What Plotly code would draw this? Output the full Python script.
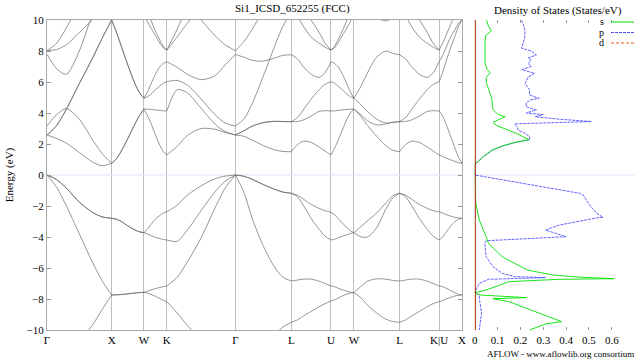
import plotly.graph_objects as go
import numpy as np

# ---------------- k-path ----------------
kpath_labels = ["Γ", "X", "W", "K", "Γ", "L", "U", "W", "L", "K|U", "X"]
segment_lengths = [1.0, 0.5, 0.3536, 1.0607, 0.8660, 0.6124, 0.3536, 0.7071, 0.6124, 0.3536]
kfrac = [0, 0.15, 0.3, 0.5, 0.7, 0.85, 1.0]

# band energies (eV) per segment, sampled at kfrac
bands_GX = [
    [-11.96, -11.8, -11.3, -10.7, -9.7, -8.7, -7.74],
    [0, -0.8, -2.0, -3.8, -5.6, -6.8, -7.74],
    [0, -0.3, -0.85, -1.75, -2.4, -2.7, -2.79],
    [0, -0.3, -0.85, -1.75, -2.4, -2.7, -2.79],
    [2.58, 2.35, 2.05, 1.45, 0.85, 0.6, 0.75],
    [3.16, 3.9, 4.28, 3.6, 2.3, 1.4, 0.75],
    [2.58, 3.2, 4.25, 5.9, 7.5, 8.8, 10.0],
    [2.58, 3.2, 4.25, 5.9, 7.5, 8.8, 10.0],
    [7.78, 6.85, 6.5, 8.0, 10.3, 11.5, 12.5],
    [8.02, 8.1, 8.4, 9.2, 10.0, 10.8, 11.5],
    [8.02, 8.5, 9.5, 11.0, 12.5, 13.5, 14.0],
]
bands_XW = [
    [-7.74, -7.73, -7.71, -7.67, -7.62, -7.59, -7.57],
    [-7.74, -7.73, -7.71, -7.67, -7.62, -7.59, -7.57],
    [-2.79, -2.85, -3.0, -3.28, -3.52, -3.66, -3.72],
    [-2.79, -2.85, -3.0, -3.28, -3.52, -3.66, -3.72],
    [0.75, 1.05, 1.55, 2.35, 3.2, 3.8, 4.26],
    [0.75, 1.05, 1.55, 2.35, 3.2, 3.8, 4.26],
    [10.0, 9.2, 8.3, 7.1, 6.0, 5.35, 4.95],
    [10.0, 9.2, 8.3, 7.1, 6.0, 5.35, 4.95],
    [11.5, 11.2, 10.9, 10.6, 10.4, 10.3, 10.3],
]
bands_WK = [
    [-7.57, -7.62, -7.7, -7.82, -7.97, -8.08, -8.17],
    [-7.57, -7.5, -7.42, -7.33, -7.25, -7.2, -7.16],
    [-3.72, -3.8, -3.9, -4.02, -4.1, -4.16, -4.19],
    [-3.72, -3.5, -3.2, -2.85, -2.6, -2.45, -2.37],
    [4.26, 3.85, 3.35, 2.6, 1.9, 1.5, 1.29],
    [4.26, 4.25, 4.23, 4.2, 4.17, 4.14, 4.13],
    [4.95, 5.05, 5.2, 5.5, 5.75, 5.93, 6.02],
    [4.95, 5.35, 5.85, 6.5, 7.0, 7.2, 7.31],
    [10.3, 9.9, 9.5, 9.0, 8.5, 8.2, 8.06],
    [11.0, 10.5, 10.0, 9.3, 8.7, 8.3, 8.06],
]
bands_KG = [
    [-8.17, -8.9, -9.7, -10.7, -11.4, -11.8, -11.96],
    [-7.16, -6.6, -5.6, -4.05, -2.15, -0.85, 0],
    [-4.19, -4.28, -3.55, -2.3, -1.1, -0.4, 0],
    [-2.37, -1.95, -1.3, -0.7, -0.25, -0.07, 0],
    [1.29, 1.85, 2.55, 3.0, 2.95, 2.75, 2.58],
    [4.13, 5.5, 5.3, 4.3, 3.3, 2.8, 2.58],
    [6.02, 6.1, 5.8, 4.9, 3.9, 3.35, 3.16],
    [7.31, 6.95, 6.5, 6.15, 6.4, 7.1, 7.78],
    [8.06, 8.9, 9.8, 10.8, 11.5, 12.0, 12.5],
    [8.06, 9.4, 10.8, 12.0, 12.8, 13.2, 13.5],
    [13.0, 12.0, 11.0, 10.0, 9.0, 8.4, 8.02],
]
bands_GL = [
    [-11.96, -11.8, -11.5, -10.9, -10.3, -9.8, -9.5],
    [0, -1.1, -2.8, -4.6, -5.95, -6.6, -6.84],
    [0, -0.08, -0.28, -0.62, -0.92, -1.1, -1.18],
    [0, -0.08, -0.28, -0.62, -0.92, -1.1, -1.18],
    [2.58, 2.5, 2.25, 1.9, 1.62, 1.52, 1.5],
    [2.58, 2.85, 3.15, 3.38, 3.46, 3.45, 3.44],
    [2.58, 2.85, 3.15, 3.38, 3.46, 3.45, 3.44],
    [3.16, 3.6, 4.6, 6.4, 8.3, 9.6, 10.5],
    [7.78, 7.6, 7.4, 7.35, 7.55, 7.72, 7.76],
    [8.02, 8.6, 9.4, 10.6, 11.5, 12.0, 12.2],
]
bands_LU = [
    [-9.5, -9.35, -9.1, -8.8, -8.5, -8.3, -8.13],
    [-6.84, -6.78, -6.72, -6.72, -6.85, -7.0, -7.16],
    [-1.18, -1.4, -1.95, -2.8, -3.5, -3.95, -4.19],
    [-1.18, -1.3, -1.55, -1.9, -2.15, -2.3, -2.41],
    [1.5, 1.95, 2.18, 2.1, 1.8, 1.55, 1.29],
    [3.44, 3.45, 3.55, 3.8, 4.1, 4.15, 4.13],
    [3.44, 3.7, 4.2, 4.9, 5.5, 5.85, 6.02],
    [7.76, 7.5, 7.0, 6.5, 6.3, 6.6, 7.31],
    [11.0, 10.3, 9.6, 8.9, 8.5, 8.25, 8.06],
    [12.0, 11.5, 10.8, 10.0, 9.2, 8.5, 8.06],
]
bands_UW = [
    [-8.13, -8.05, -7.95, -7.8, -7.68, -7.62, -7.59],
    [-7.16, -7.2, -7.3, -7.4, -7.5, -7.56, -7.59],
    [-4.19, -4.15, -4.05, -3.95, -3.85, -3.77, -3.72],
    [-2.41, -2.55, -2.8, -3.1, -3.4, -3.6, -3.72],
    [1.29, 1.7, 2.2, 2.9, 3.6, 4.0, 4.26],
    [4.13, 4.14, 4.16, 4.2, 4.23, 4.25, 4.26],
    [6.02, 5.93, 5.75, 5.5, 5.2, 5.05, 4.95],
    [7.31, 7.2, 7.0, 6.5, 5.85, 5.35, 4.95],
    [8.06, 8.2, 8.5, 9.0, 9.5, 9.9, 10.3],
    [8.06, 8.3, 8.7, 9.3, 10.0, 10.5, 11.0],
]
bands_WL = [
    [-7.59, -7.9, -8.4, -8.9, -9.3, -9.45, -9.5],
    [-7.59, -7.2, -6.85, -6.7, -6.72, -6.8, -6.84],
    [-3.72, -3.98, -4.0, -3.4, -2.2, -1.5, -1.18],
    [-3.72, -3.35, -2.95, -2.45, -1.8, -1.35, -1.18],
    [4.26, 3.8, 3.2, 2.5, 1.9, 1.6, 1.5],
    [4.26, 3.9, 3.5, 3.23, 3.3, 3.4, 3.44],
    [4.95, 4.55, 4.1, 3.6, 3.35, 3.4, 3.44],
    [4.95, 5.7, 6.6, 7.6, 8.0, 7.85, 7.76],
    [10.3, 10.4, 10.3, 10.1, 9.95, 10.1, 10.5],
]
bands_LK = [
    [-9.5, -9.35, -9.1, -8.8, -8.5, -8.3, -8.17],
    [-6.84, -6.78, -6.72, -6.72, -6.85, -7.0, -7.16],
    [-1.18, -1.4, -1.95, -2.8, -3.5, -3.95, -4.19],
    [-1.18, -1.3, -1.55, -1.9, -2.15, -2.3, -2.37],
    [1.5, 1.95, 2.18, 2.1, 1.8, 1.55, 1.29],
    [3.44, 3.45, 3.55, 3.8, 4.1, 4.15, 4.13],
    [3.44, 3.7, 4.2, 4.9, 5.5, 5.85, 6.02],
    [7.76, 7.5, 7.0, 6.5, 6.3, 6.6, 7.31],
    [11.0, 10.3, 9.6, 8.9, 8.5, 8.25, 8.06],
    [12.0, 11.5, 10.8, 10.0, 9.2, 8.5, 8.06],
]
bands_UX = [
    [-8.17, -8.1, -8.0, -7.9, -7.8, -7.76, -7.74],
    [-7.16, -7.2, -7.3, -7.45, -7.6, -7.7, -7.74],
    [-4.19, -4.0, -3.7, -3.3, -3.0, -2.85, -2.79],
    [-2.37, -2.45, -2.55, -2.65, -2.73, -2.77, -2.79],
    [1.29, 1.2, 1.1, 0.98, 0.87, 0.79, 0.75],
    [4.13, 3.8, 3.3, 2.5, 1.7, 1.15, 0.75],
    [6.02, 6.6, 7.3, 8.2, 9.0, 9.6, 10.0],
    [7.31, 7.7, 8.2, 8.9, 9.4, 9.8, 10.0],
    [8.06, 8.5, 9.0, 9.7, 10.4, 11.0, 11.5],
]
segment_bands = [bands_GX, bands_XW, bands_WK, bands_KG, bands_GL,
                 bands_LU, bands_UW, bands_WL, bands_LK, bands_UX]

# ---------------- DOS (States/eV) ----------------
dos_s_energy = [10.0, 9.6, 9.3, 9.0, 8.6, 8.2, 7.74, 7.2, 6.8, 6.6, 6.3, 5.9, 5.5, 5.16, 4.9,
                4.4, 4.2, 4.0, 3.9, 3.76, 3.6, 3.4, 3.2, 3.05, 2.9, 2.7, 2.45, 2.28, 2.1, 1.9,
                1.6, 1.2, 0.75, 0.6, 0.0, -0.5, -1.83, -2.9, -3.55, -3.98, -4.41, -5.27, -6.13,
                -6.45, -6.6, -6.69, -6.73, -6.88, -7.1, -7.42, -7.59, -7.74, -7.91, -7.98,
                -8.17, -8.71, -9.46, -9.61, -10.0]
dos_s = [0.052, 0.060, 0.073, 0.048, 0.045, 0.045, 0.047, 0.045, 0.055, 0.068, 0.050, 0.052,
         0.062, 0.070, 0.075, 0.078, 0.081, 0.095, 0.105, 0.133, 0.110, 0.080, 0.095, 0.120,
         0.150, 0.179, 0.215, 0.237, 0.175, 0.125, 0.075, 0.038, 0.005, 0.0, 0.0, 0.002,
         0.005, 0.02, 0.04, 0.05, 0.06, 0.12, 0.23, 0.34, 0.47, 0.61, 0.37, 0.15, 0.11,
         0.05, 0.0, 0.02, 0.227, 0.08, 0.15, 0.25, 0.38, 0.31, 0.24]
dos_p_energy = [10.0, 9.7, 9.3, 8.8, 8.18, 8.0, 7.74, 7.55, 7.4, 7.2, 7.0, 6.8, 6.56, 6.3,
                5.9, 5.5, 5.16, 4.95, 4.85, 4.65, 4.4, 4.2, 4.0, 3.9, 3.76, 3.6, 3.45, 3.37,
                3.3, 3.2, 3.1, 2.9, 2.69, 2.47, 2.28, 2.1, 1.9, 1.6, 1.2, 0.75, 0.6, 0.0,
                -0.21, -0.75, -1.18, -1.29, -1.83, -2.47, -2.73, -2.75, -3.23, -3.55, -3.98,
                -4.24, -4.41, -5.27, -5.91, -6.34, -6.56, -6.62, -6.73, -6.99, -7.42, -7.59,
                -7.74, -7.96, -8.9, -9.78, -10.0]
dos_p = [0.205, 0.213, 0.220, 0.218, 0.205, 0.248, 0.270, 0.233, 0.248, 0.233, 0.248, 0.205,
         0.262, 0.233, 0.220, 0.240, 0.240, 0.282, 0.245, 0.225, 0.225, 0.270, 0.225, 0.300,
         0.265, 0.370, 0.510, 0.300, 0.175, 0.180, 0.185, 0.190, 0.220, 0.240, 0.240, 0.180,
         0.130, 0.078, 0.040, 0.006, 0.0, 0.0, 0.08, 0.30, 0.46, 0.475, 0.497, 0.533, 0.562,
         0.54, 0.37, 0.31, 0.40, 0.05, 0.044, 0.05, 0.08, 0.12, 0.175, 0.31, 0.06, 0.02,
         0.007, 0.0, 0.02, 0.02, 0.03, 0.02, 0.02]
dos_d_energy = [10.0, -10.0]
dos_d = [0.002, 0.002]

# ---------------- build ----------------
kpos = np.concatenate([[0.0], np.cumsum(segment_lengths)])
xs, ys = [], []
for i, seg in enumerate(segment_bands):
    k0, k1 = kpos[i], kpos[i + 1]
    kx = [k0 + f * (k1 - k0) for f in kfrac]
    for band in seg:
        xs += kx + [None]
        ys += band + [None]

W, H = 639, 362
def px(x): return x / W
def py(y): return 1 - y / H

serif = "Liberation Serif, Times New Roman, serif"
band_color = "rgb(105,105,105)"

fig = go.Figure()
# zero line
fig.add_trace(go.Scatter(x=[kpos[0], kpos[-1]], y=[0, 0], mode="lines", line=dict(color="rgb(228,228,250)", width=1),
                         showlegend=False, hoverinfo="skip", xaxis="x", yaxis="y"))
fig.add_trace(go.Scatter(x=[0, 0.7], y=[0, 0], mode="lines", line=dict(color="rgb(228,228,250)", width=1),
                         showlegend=False, hoverinfo="skip", xaxis="x2", yaxis="y2"))
fig.add_trace(go.Scatter(x=xs, y=ys, mode="lines", line=dict(color=band_color, width=0.7, shape="spline", smoothing=0.8),
                         hoverinfo="skip", showlegend=False, xaxis="x", yaxis="y"))

s_color, p_color, d_color = "rgb(0,225,0)", "rgb(80,80,255)", "rgb(240,90,20)"
fig.add_trace(go.Scatter(x=dos_p, y=dos_p_energy, mode="lines", line=dict(color=p_color, width=0.9, dash="3px,1px"),
                         showlegend=False, hoverinfo="skip", xaxis="x2", yaxis="y2"))
fig.add_trace(go.Scatter(x=dos_s, y=dos_s_energy, mode="lines", line=dict(color=s_color, width=0.9),
                         showlegend=False, hoverinfo="skip", xaxis="x2", yaxis="y2"))
fig.add_trace(go.Scatter(x=dos_d, y=dos_d_energy, mode="lines", line=dict(color="rgb(170,60,20)", width=1.5),
                         showlegend=False, hoverinfo="skip", xaxis="x2", yaxis="y2"))

y_dom = [py(330), py(20)]
fig.update_layout(
    width=W, height=H, margin=dict(l=0, r=0, t=0, b=0, autoexpand=False),
    paper_bgcolor="white", plot_bgcolor="white",
    font=dict(family=serif, size=11, color="black"),
    xaxis=dict(domain=[px(47), px(462)], range=[kpos[0], kpos[-1]], tickvals=list(kpos), ticktext=kpath_labels,
               showgrid=True, gridcolor="rgb(190,190,190)", gridwidth=1, zeroline=False, ticks="",
               showline=True, linecolor="rgb(170,170,170)", mirror=True, tickfont=dict(size=11),
               automargin=False),
    yaxis=dict(domain=y_dom, range=[-10, 10], tickvals=list(range(-10, 11, 2)), showgrid=False, zeroline=False,
               ticks="inside", ticklen=4, tickcolor="rgb(150,150,150)", showline=True, linecolor="rgb(170,170,170)",
               mirror="ticks", title=dict(text="Energy (eV)", font=dict(size=11), standoff=10),
               tickfont=dict(size=11), automargin=False),
    xaxis2=dict(domain=[px(474.7), px(634.7)], range=[0, 0.7], anchor="y2", tickvals=[0, 0.1, 0.2, 0.3, 0.4, 0.5, 0.6, 0.7],
                ticktext=["0", "0.1", "0.2", "0.3", "0.4", "0.5", "0.6", "0.7"], showgrid=False, zeroline=False,
                ticks="inside", ticklen=3, tickcolor="rgb(150,150,150)", showline=True, linecolor="rgba(0,0,0,0)",
                mirror="ticks", tickfont=dict(size=11), automargin=False),
    yaxis2=dict(domain=y_dom, range=[-10, 10], anchor="x2", showticklabels=False, showgrid=False, zeroline=False,
                ticks="", showline=False, automargin=False),
)

fig.add_annotation(x=px(292), y=py(9), xref="paper", yref="paper", text="Si1_ICSD_652255 (FCC)", showarrow=False,
                   font=dict(size=11), xanchor="center", yanchor="middle")
fig.add_annotation(x=px(558), y=py(10), xref="paper", yref="paper", text="Density of States (States/eV)", showarrow=False,
                   font=dict(size=11), xanchor="center", yanchor="middle")
fig.add_annotation(x=px(560), y=py(354), xref="paper", yref="paper", text="AFLOW - www.aflowlib.org consortium",
                   showarrow=False, font=dict(size=9), xanchor="center", yanchor="middle")

legend_items = [("s", s_color, "solid", 22), ("p", p_color, "3px,1px", 32.5), ("d", d_color, "3px,2px", 43)]
for name, col, dash, yy in legend_items:
    fig.add_annotation(x=px(606), y=py(yy), xref="paper", yref="paper", text=name, showarrow=False,
                       font=dict(size=10), xanchor="right", yanchor="middle")
    fig.add_shape(type="line", xref="paper", yref="paper", x0=px(611), x1=px(634), y0=py(yy), y1=py(yy),
                  line=dict(color=col, width=1, dash=dash))

fig.write_html("out.html", config={"displayModeBar": False, "staticPlot": True},
               post_script="document.body.style.margin='0px';document.body.style.overflow='hidden';")
